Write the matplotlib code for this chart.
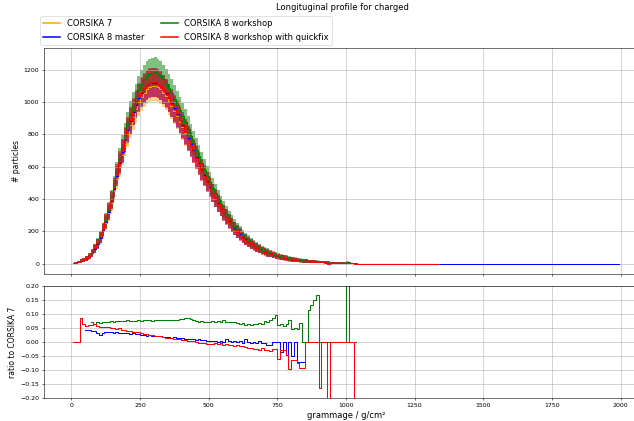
import numpy as np
import matplotlib
matplotlib.use("Agg")
import matplotlib.pyplot as plt

# --- Data ---
C7_CENTERS = np.arange(5, 1340, 10)      # CORSIKA 7 / workshop histograms
MASTER_CENTERS = np.arange(5, 2000, 10)  # CORSIKA 8 master runs further out

c7_counts = [
    2, 5, 9, 15, 22, 31, 44, 62, 88, 118,
    155, 200, 250, 310, 375, 450, 525, 600, 672, 740,
    800, 858, 910, 957, 998, 1032, 1058, 1078, 1091, 1097,
    1098, 1092, 1078, 1058, 1035, 1008, 978, 945, 912, 878,
    843, 807, 770, 732, 694, 656, 618, 580, 543, 507,
    472, 438, 405, 373, 343, 315, 288, 263, 240, 218,
    198, 180, 163, 148, 134, 121, 110, 99, 90, 81,
    73, 66, 60, 54, 49, 44, 39, 35, 32, 28,
    26, 23, 21, 19, 17, 15, 13, 12, 11, 10,
    9, 8, 7, 6, 5.5, 5, 4.5, 4, 3.5, 3,
    2.7, 2.4, 2.1, 1.8, 0, 0, 0, 0, 0, 0,
    0, 0, 0, 0, 0, 0, 0, 0, 0, 0,
    0, 0, 0, 0, 0, 0, 0, 0, 0, 0,
    0, 0, 0, 0,
]

nan = np.nan
# ratio (C8 / C7 - 1) per bin, bins centred at 5, 15, ..., 1035
ratio_master = [
    nan, nan, nan, nan, nan, 0.043, 0.042, 0.040, 0.041, 0.031,
    0.025, 0.032, 0.037, 0.034, 0.037, 0.032, 0.036, 0.033, 0.031, 0.033,
    0.031, 0.030, 0.032, 0.029, 0.028, 0.026, 0.025, 0.023, 0.024, 0.022,
    0.021, 0.020, 0.021, 0.018, 0.019, 0.017, 0.016, 0.018, 0.015, 0.014,
    0.016, 0.012, 0.011, 0.010, 0.009, 0.008, 0.009, 0.006, 0.007, 0.004,
    0.005, 0.002, 0.004, 0.001, 0.003, 0.001, 0.009, 0.002, 0.000, 0.003,
    0.001, 0.004, -0.002, 0.009, 0.000, -0.002, 0.001, -0.004, 0.005, -0.003,
    -0.002, -0.012, -0.010, 0, 0, 0, -0.035, 0, -0.047, 0,
    -0.050, 0, -0.070, -0.070, -0.072, 0, nan, nan, nan, nan,
    nan, nan, nan, nan, nan, nan, nan, nan, nan, nan,
    nan, nan, nan, nan,
]
ratio_workshop = [
    nan, nan, nan, nan, nan, nan, nan, 0.070, 0.063, 0.070,
    0.068, 0.070, 0.072, 0.071, 0.074, 0.073, 0.075, 0.074, 0.076, 0.075,
    0.077, 0.075, 0.076, 0.074, 0.077, 0.076, 0.078, 0.077, 0.078, 0.076,
    0.078, 0.077, 0.079, 0.078, 0.077, 0.079, 0.078, 0.080, 0.079, 0.081,
    0.083, 0.085, 0.084, 0.081, 0.079, 0.076, 0.073, 0.074, 0.072, 0.073,
    0.071, 0.074, 0.072, 0.075, 0.071, 0.077, 0.072, 0.073, 0.071, 0.072,
    0.068, 0.066, 0.067, 0.062, 0.064, 0.061, 0.066, 0.063, 0.069, 0.066,
    0.074, 0.072, 0.078, 0.085, 0.096, 0.060, 0.066, 0.058, 0.066, 0.080,
    0.048, 0.050, 0.047, 0.068, 0, 0, 0.113, 0.131, 0.149, 0.167,
    0, 0, 0, 0, 0, 0, 0, 0, 0, 0,
    2.0, 0, 0, 0,
]
ratio_quickfix = [
    0, 0, 0, 0.085, 0.063, 0.058, 0.062, 0.060, 0.063, 0.056,
    0.054, 0.055, 0.052, 0.054, 0.050, 0.051, 0.048, 0.049, 0.044, 0.043,
    0.040, 0.038, 0.037, 0.036, 0.034, 0.032, 0.030, 0.027, 0.026, 0.024,
    0.023, 0.021, 0.020, 0.018, 0.016, 0.015, 0.013, 0.012, 0.011, 0.009,
    0.008, 0.006, 0.005, 0.004, 0.002, 0.000, -0.002, -0.004, -0.005, -0.007,
    -0.006, -0.008, -0.005, -0.007, -0.004, -0.009, -0.008, -0.012, -0.010, -0.013,
    -0.011, -0.016, -0.014, -0.018, -0.022, -0.020, -0.026, -0.024, -0.029, -0.022,
    -0.030, -0.028, -0.033, -0.024, -0.024, -0.060, -0.030, -0.030, -0.046, -0.097,
    -0.064, -0.064, -0.076, -0.093, -0.093, 0, 0, 0, 0, 0,
    -0.165, 0, 0, -1, 0, 0, 0, 0, 0, 0,
    0, 0, 0, -1,
]

# shower-to-shower spread of the bands, in units of sqrt(N)
SPREAD_SCALE = 2.7

LABELS = ["CORSIKA 7", "CORSIKA 8 master", "CORSIKA 8 workshop",
          "CORSIKA 8 workshop with quickfix"]
COLORS = ["orange", "blue", "green", "red"]


def c8_counts(ratio, n_total):
    c7 = np.array(c7_counts, dtype=float)
    r = np.nan_to_num(np.array(ratio, dtype=float), nan=0.0)
    vals = c7.copy()
    vals[:len(r)] = c7[:len(r)] * (1 + r)
    out = np.zeros(n_total)
    out[:len(vals)] = vals
    return out


def main():
    fig = plt.figure(figsize=(12.68, 8.42), dpi=50)
    ax = fig.add_axes([44 / 634, 1 - 274 / 421, 604 / 634, 226 / 421])
    axr = fig.add_axes([44 / 634, 1 - 398 / 421, 604 / 634, 112 / 421], sharex=ax)

    series = [
        (C7_CENTERS, np.array(c7_counts, dtype=float)),
        (MASTER_CENTERS, c8_counts(ratio_master, len(MASTER_CENTERS))),
        (C7_CENTERS, c8_counts(ratio_workshop, len(C7_CENTERS))),
        (C7_CENTERS, c8_counts(ratio_quickfix, len(C7_CENTERS))),
    ]

    for (x, y), label, color in zip(series, LABELS, COLORS):
        err = SPREAD_SCALE * np.sqrt(y)
        ax.fill_between(x, y - err, y + err, step="mid",
                        color=color, alpha=0.5, lw=0)
        ax.step(x, y, where="mid", color=color, lw=1.5, label=label)

    ratio_x = C7_CENTERS[:len(ratio_quickfix)]
    for ratio, color in zip([ratio_master, ratio_workshop, ratio_quickfix], COLORS[1:]):
        axr.step(ratio_x, ratio, where="mid", color=color, lw=1.5)

    ax.set_xlim(-100, 2100)
    ax.set_ylim(-65, 1335)
    ax.set_yticks(np.arange(0, 1201, 200))
    ax.tick_params(labelbottom=False, labelsize=9)
    ax.set_ylabel("# particles", fontsize=11)
    ax.grid(True)

    axr.set_ylim(-0.2, 0.2)
    axr.set_yticks(np.arange(-0.2, 0.201, 0.05))
    axr.set_xticks(np.arange(0, 2001, 250))
    axr.tick_params(labelsize=9)
    axr.set_ylabel("ratio to CORSIKA 7", fontsize=11)
    axr.set_xlabel("grammage / g/cm²", fontsize=12)
    axr.grid(True)

    fig.text(342 / 634, 1 - 8 / 421, "Longituginal profile for charged",
             ha="center", va="center", fontsize=12)
    leg = fig.legend(loc="upper left", bbox_to_anchor=(40 / 634, 1 - 16 / 421),
                     ncol=2, fontsize=12, borderaxespad=0)
    for line in leg.get_lines():
        line.set_linewidth(2.2)

    fig.savefig("out.png", dpi=50)


if __name__ == "__main__":
    main()
